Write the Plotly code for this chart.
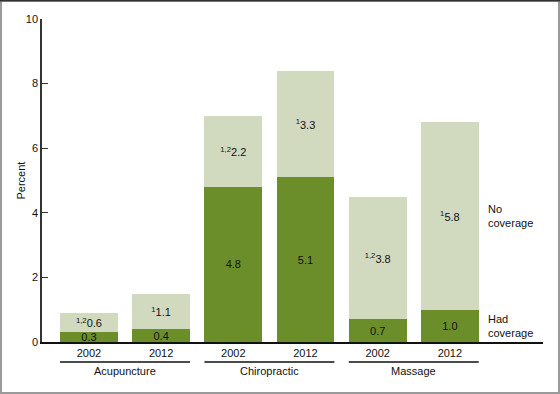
import plotly.graph_objects as go

groups = ["Acupuncture", "Chiropractic", "Massage"]
years = ["2002", "2012"]
had_coverage = [0.3, 0.4, 4.8, 5.1, 0.7, 1.0]
no_coverage = [0.6, 1.1, 2.2, 3.3, 3.8, 5.8]
no_cov_notes = ["1,2", "1", "1,2", "1", "1,2", "1"]
y_ticks = [0, 2, 4, 6, 8, 10]

DARK = "#6b8e2a"
LIGHT = "#d1dabf"
FONT = "Liberation Sans, Arial, sans-serif"

x = list(range(len(had_coverage)))
tick_text = [years[i % 2] for i in x]

fig = go.Figure()
fig.add_bar(x=x, y=had_coverage, marker_color=DARK, marker_line_width=0, width=0.8,
            text=[f"{v:.1f}" for v in had_coverage], textposition="inside",
            insidetextanchor="middle", constraintext="none", textangle=0,
            textfont=dict(family=FONT, size=11, color="#111"), hoverinfo="skip",
            showlegend=False)
fig.add_bar(x=x, y=no_coverage, marker_color=LIGHT, marker_line_width=0, width=0.8,
            text=[f"<sup>{n}</sup>{v:.1f}" for n, v in zip(no_cov_notes, no_coverage)],
            textposition="inside", insidetextanchor="middle", constraintext="none",
            textangle=0, textfont=dict(family=FONT, size=11, color="#111"),
            hoverinfo="skip", showlegend=False)

W, H = 560, 394
L, R, T, B = 42, 17, 19, 52
pw, ph = W - L - R, H - T - B

shapes = []
annotations = []
for gi, g in enumerate(groups):
    x0 = gi * 2 - 0.4
    x1 = gi * 2 + 1 + 0.4
    shapes.append(dict(type="line", xref="x", yref="paper", x0=x0, x1=x1,
                       y0=-20 / ph, y1=-20 / ph, line=dict(color="#111", width=1.5)))
    annotations.append(dict(x=gi * 2 + 0.5, y=-29 / ph, xref="x", yref="paper",
                            text=g, showarrow=False, yanchor="middle",
                            font=dict(family=FONT, size=11, color="#111")))

last = len(had_coverage) - 1
annotations.append(dict(x=last + 0.5, y=had_coverage[last] + no_coverage[last] / 2,
                        xref="x", yref="y", text="No<br>coverage", showarrow=False,
                        xanchor="left", yanchor="middle", align="left",
                        font=dict(family=FONT, size=11, color="#111")))
annotations.append(dict(x=last + 0.5, y=had_coverage[last] / 2, xref="x", yref="y",
                        text="Had<br>coverage", showarrow=False, xanchor="left",
                        yanchor="middle", align="left",
                        font=dict(family=FONT, size=11, color="#111")))
# y-axis title
annotations.append(dict(x=-22 / pw, y=0.5, xref="paper", yref="paper", text="Percent",
                        textangle=-90, showarrow=False, xanchor="center", yanchor="middle",
                        font=dict(family=FONT, size=11, color="#111")))

# frame around the whole figure
shapes.append(dict(type="rect", xref="paper", yref="paper",
                   x0=(-L + 1) / pw, x1=(pw + R - 1) / pw,
                   y0=(-B + 1) / ph, y1=(ph + T - 0.75) / ph,
                   line=dict(color="#9a9a9a", width=2)))
shapes.append(dict(type="line", xref="paper", yref="paper",
                   x0=-L / pw, x1=(pw + R) / pw, y0=(ph + T - 0.75) / ph, y1=(ph + T - 0.75) / ph,
                   line=dict(color="#333", width=1.5)))

fig.update_layout(
    barmode="stack",
    width=W, height=H,
    margin=dict(l=L, r=R, t=T, b=B, pad=0, autoexpand=False),
    paper_bgcolor="white", plot_bgcolor="white",
    font=dict(family=FONT, size=11, color="#111"),
    shapes=shapes, annotations=annotations,
    xaxis=dict(range=[-0.65, 6.29], tickmode="array", tickvals=x, ticktext=tick_text,
               showline=True, linecolor="#111", linewidth=1.5, ticks="",
               showgrid=False, zeroline=False, tickfont=dict(size=11), automargin=False),
    yaxis=dict(range=[0, 10], tickvals=y_ticks, showline=True, linecolor="#333",
               linewidth=1.5, ticks="inside", ticklen=6, tickcolor="#333",
               showgrid=False, zeroline=False, automargin=False,
               tickfont=dict(size=11)),
)

fig.write_html("out.html", config={"displayModeBar": False},
               post_script="document.body.style.margin='0px';document.body.style.padding='0px';")
